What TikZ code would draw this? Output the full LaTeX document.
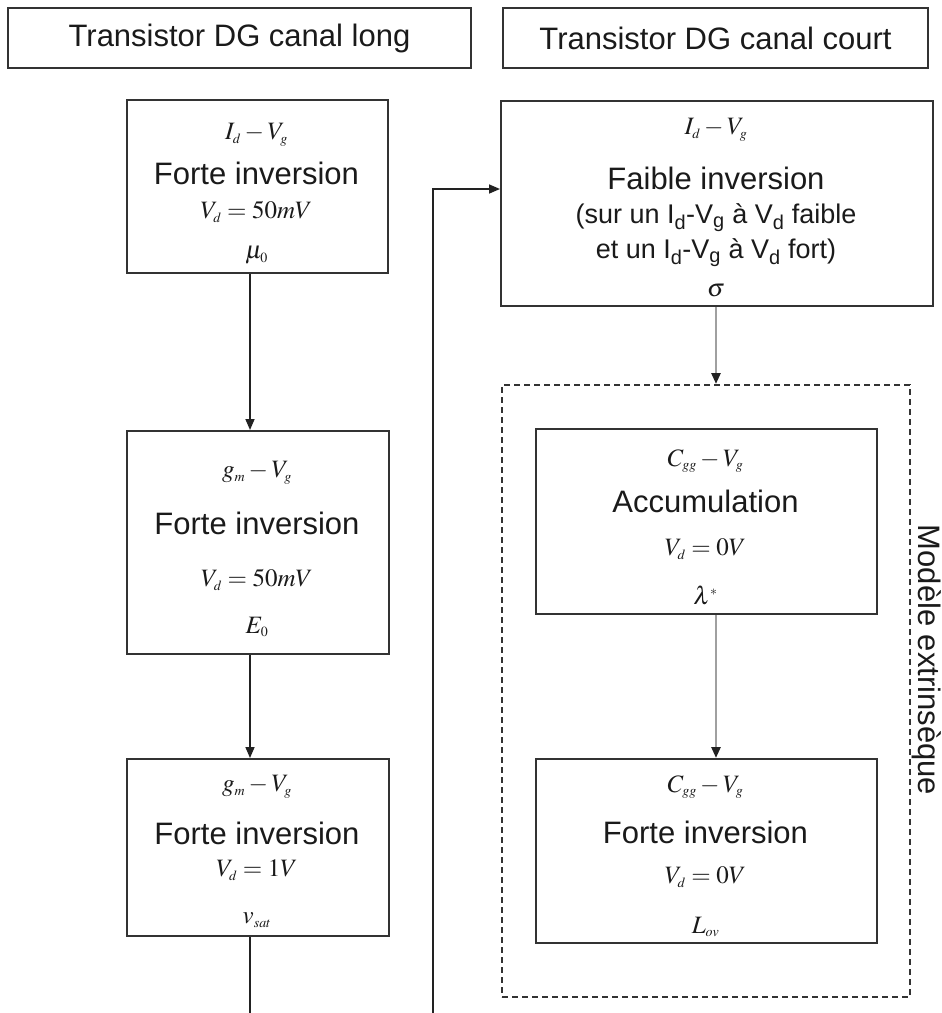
\documentclass[tikz,border=0pt]{standalone}
\usepackage{mathptmx}
\usepackage[no-math]{fontspec}
\setmainfont{Liberation Sans}
\usetikzlibrary{arrows.meta}
\DeclareMathSizes{25}{25}{14}{11}
\definecolor{boxcol}{HTML}{333333}
\definecolor{txtcol}{HTML}{1A1A1A}
\definecolor{grayarr}{HTML}{A0A0A0}
\definecolor{arrcol}{HTML}{222222}
\tikzset{
  box/.style={draw=boxcol, line width=2pt, rectangle, inner sep=0pt, anchor=north west, text=txtcol,
    font=\fontsize{31}{36}\selectfont},
  dashbox/.style={draw=boxcol, line width=2pt, dash pattern=on 6pt off 4pt, rectangle, inner sep=0pt, anchor=north west},
  wtxt/.style={text=txtcol, inner sep=0pt, font=\fontsize{31}{36}\selectfont},
  stxt/.style={text=txtcol, inner sep=0pt, font=\fontsize{27}{32}\selectfont},
  mtxt/.style={text=txtcol, inner sep=0pt, font=\fontsize{25}{30}\selectfont},
  blackarrow/.style={draw=arrcol, line width=1.6pt, -{Triangle[length=11pt,width=9pt]}},
  grayarrow/.style={draw=grayarr, line width=2.6pt, -{Triangle[length=11pt,width=9pt,color=arrcol]}},
  plainline/.style={draw=arrcol, line width=1.6pt},
}
\newcommand\placebox[6][box]{\node[#1, minimum width={#5-#3}, minimum height={#6-#4}] (#2) at (#3,#4) {};}
\begin{document}
\begin{tikzpicture}[x=1pt,y=-1pt]
\useasboundingbox (0,0) rectangle (942,1013);
% headers
\node[box, minimum width=463, minimum height=60] (h1) at (7,7) {Transistor DG canal long};
\node[box, minimum width=425, minimum height=60] (h2) at (502,7) {Transistor DG canal court};
% boxes
\placebox{A}{126}{99}{387}{272}
\placebox{B}{126}{430}{388}{653}
\placebox{C}{126}{758}{388}{935}
\placebox{D}{500}{100}{932}{305}
\placebox[dashbox]{X}{501}{384}{909}{996}
\placebox{E}{535}{428}{876}{613}
\placebox{F}{535}{758}{876}{942}
% box A
\node[mtxt] (a1) at (256.5,135) {$I_d - V_g$};
\node[wtxt] (a2) at (256.5,173) {Forte inversion};
\node[mtxt] (a3) at (256.5,212) {$V_d = 50mV$};
\node[mtxt] (a4) at (256.5,255) {$\mu_0$};
% box B
\node[mtxt] (b1) at (257,473) {$g_m - V_g$};
\node[wtxt] (b2) at (257,523) {Forte inversion};
\node[mtxt] (b3) at (257,580) {$V_d = 50mV$};
\node[mtxt] (b4) at (257,627) {$E_0$};
% box C
\node[mtxt] (c1) at (257,787) {$g_m - V_g$};
\node[wtxt] (c2) at (257,833) {Forte inversion};
\node[mtxt] (c3) at (257,870) {$V_d = 1V$};
\node[mtxt] (c4) at (257,920) {$v_{sat}$};
% box D
\node[mtxt] (d1) at (716,130) {$I_d - V_g$};
\node[wtxt] (d2) at (716,178) {Faible inversion};
\node[stxt] (d3) at (716,218) {(sur un I\textsubscript{d}-V\textsubscript{g} à V\textsubscript{d} faible};
\node[stxt] (d4) at (716,253) {et un I\textsubscript{d}-V\textsubscript{g} à V\textsubscript{d} fort)};
\node[mtxt] (d5) at (716,291) {$\sigma$};
% box E
\node[mtxt] (e1) at (705.5,461) {$C_{gg} - V_g$};
\node[wtxt] (e2) at (705.5,501) {Accumulation};
\node[mtxt] (e3) at (705.5,549) {$V_d = 0V$};
\node[mtxt] (e4) at (705.5,595) {$\lambda^*$};
% box F
\node[mtxt] (f1) at (705.5,787) {$C_{gg} - V_g$};
\node[wtxt] (f2) at (705.5,832) {Forte inversion};
\node[mtxt] (f3) at (705.5,877) {$V_d = 0V$};
\node[mtxt] (f4) at (705.5,927) {$L_{ov}$};
% side label
\node[wtxt, rotate=-90] (ext) at (927,660) {Modèle extrinsèque};
% connectors
\coordinate (colL) at (250,0);
\coordinate (colR) at (716,0);
\coordinate (cend) at (250,1013);
\coordinate (fbstart) at (433,1013);
\coordinate (fbturn) at (433,189);
\draw[blackarrow] (A.south -| colL) -- (B.north -| colL);
\draw[blackarrow] (B.south -| colL) -- (C.north -| colL);
\draw[plainline] (C.south -| colL) -- (cend);
\draw[blackarrow] (fbstart) -- (fbturn) -- (fbturn -| D.west);
\draw[grayarrow] (D.south -| colR) -- (X.north -| colR);
\draw[grayarrow] (E.south -| colR) -- (F.north -| colR);
\end{tikzpicture}
\end{document}
